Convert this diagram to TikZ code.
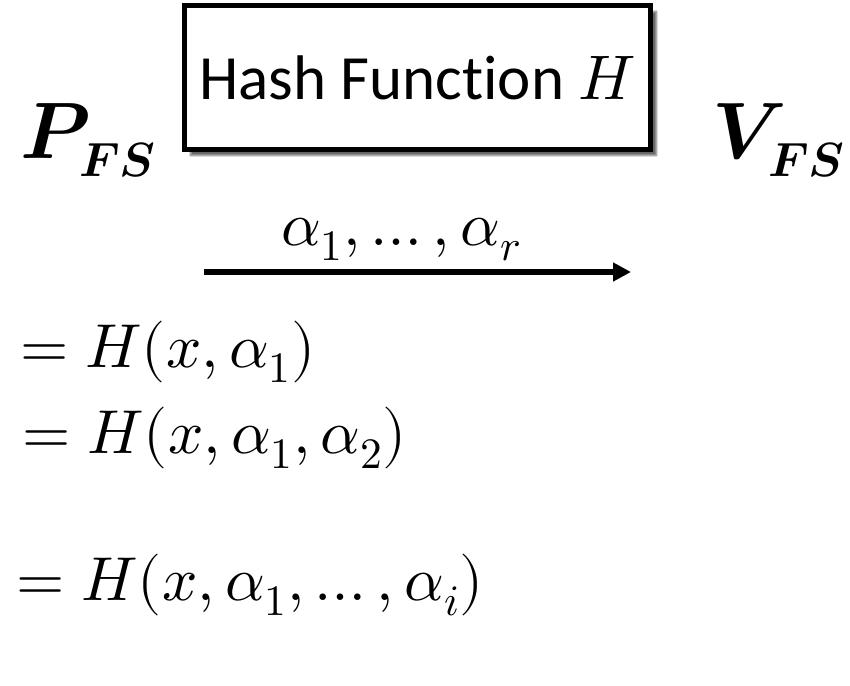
\documentclass[tikz,border=0pt]{standalone}
\usepackage{fontspec}
\usepackage{unicode-math}
\setmathfont{Latin Modern Math}
\newfontfamily\boxfont[Ligatures=NoCommon]{Carlito}
\usetikzlibrary{arrows.meta,shadows.blur}
\tikzset{
  hashbox/.style={draw=black, line width=5pt, fill=white, inner sep=0pt,
    minimum width=466pt, minimum height=144pt,
    blur shadow={shadow xshift=6pt, shadow yshift=-6pt, shadow blur steps=12, shadow opacity=60}},
  bigsym/.style={inner sep=0pt, anchor=base west, font=\fontsize{80}{96}\selectfont},
  subsym/.style={inner sep=0pt, anchor=base west, font=\fontsize{48}{58}\selectfont},
  mathtxt/.style={inner sep=0pt, anchor=base west, font=\fontsize{62}{74}\selectfont},
  msgarrow/.style={line width=6pt, -{Triangle[length=18pt,width=18pt]}}
}
\begin{document}
\begin{tikzpicture}[x=1pt,y=-1pt]
\useasboundingbox (0,0) rectangle (850,685);
\node[hashbox] (hash) at (417.5,77.5) {\boxfont\fontsize{63}{75}\selectfont Hash Function $H$};
\node[bigsym] (prover) at (20,158) {$\symbfit{P}$};
\node[subsym] (proverfs) at (79,176) {$\symbfit{FS}$};
\node[bigsym] (verifier) at (712,158) {$\symbfit{V}$};
\node[subsym] (verifierfs) at (768,176) {$\symbfit{FS}$};
\node[mathtxt, anchor=base] (msg) at (401,245) {$\alpha_1,\ldots,\alpha_r$};
\coordinate (as) at (204,272);
\coordinate (ae) at (631,272);
\draw[msgarrow] (as) -- (ae);
\node[mathtxt] (eq1) at (20,367) {$=H(x,\alpha_1)$};
\node[mathtxt] (eq2) at (22,453) {$=H(x,\alpha_1,\alpha_2)$};
\node[mathtxt] (eq3) at (16,600) {$=H(x,\alpha_1,\ldots,\alpha_i)$};
\end{tikzpicture}
\end{document}
